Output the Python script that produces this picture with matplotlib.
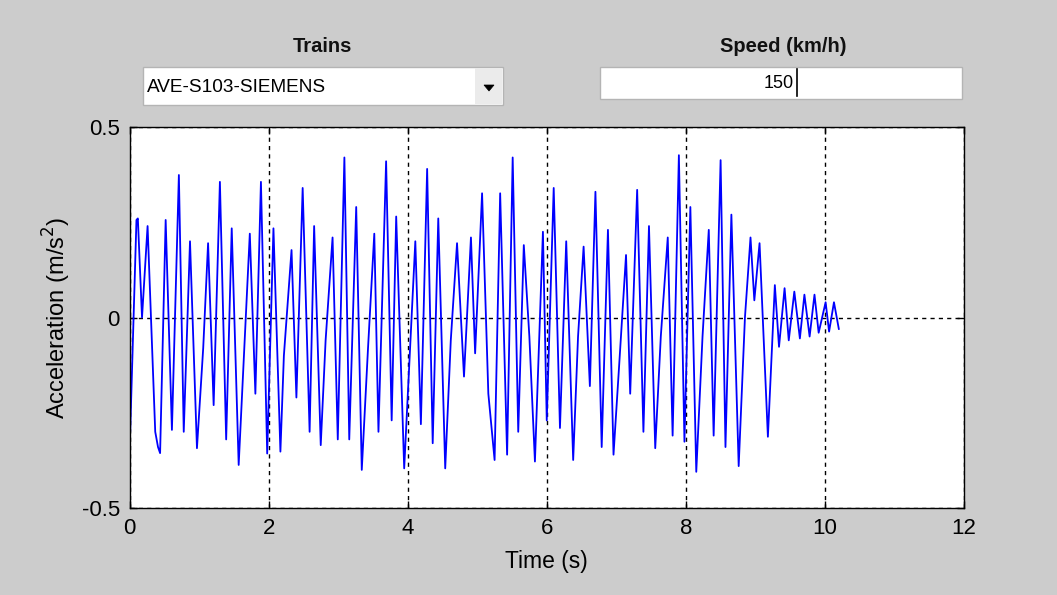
import numpy as np
import matplotlib
matplotlib.use("Agg")
import matplotlib.pyplot as plt
from matplotlib.patches import Rectangle, Polygon

plt.rcParams['font.family'] = ['Liberation Sans', 'DejaVu Sans']

# acceleration record (turning points + a few shoulders)
time_s = [0.00, 0.01, 0.10, 0.12, 0.18, 0.26, 0.37, 0.41, 0.44, 0.52,
          0.61, 0.71, 0.78, 0.87, 0.97, 1.06, 1.13, 1.21, 1.30, 1.39,
          1.47, 1.57, 1.73, 1.81, 1.89, 1.98, 2.07, 2.17, 2.22, 2.33,
          2.40, 2.49, 2.59, 2.655, 2.75, 2.82, 2.92, 2.995, 3.09, 3.16,
          3.26, 3.34, 3.43, 3.52, 3.58, 3.69, 3.77, 3.835, 3.95, 4.11,
          4.19, 4.28, 4.36, 4.44, 4.54, 4.62, 4.71, 4.81, 4.91, 4.97,
          5.07, 5.16, 5.25, 5.33, 5.43, 5.51, 5.59, 5.67, 5.75, 5.83,
          5.945, 6.00, 6.10, 6.19, 6.28, 6.38, 6.45, 6.53, 6.62, 6.70,
          6.79, 6.88, 6.96, 7.05, 7.14, 7.20, 7.30, 7.39, 7.47, 7.56,
          7.64, 7.74, 7.81, 7.90, 7.98, 8.065, 8.15, 8.24, 8.33, 8.40,
          8.50, 8.57, 8.655, 8.76, 8.85, 8.93, 8.985, 9.06, 9.18, 9.28,
          9.34, 9.42, 9.48, 9.56, 9.64, 9.705, 9.78, 9.85, 9.91, 10.01,
          10.06, 10.13, 10.20]
accel = [-0.20, -0.30, 0.256, 0.26, 0.00, 0.24, -0.30, -0.34, -0.356, 0.256,
         -0.295, 0.374, -0.30, 0.20, -0.343, -0.08, 0.195, -0.23, 0.356, -0.32,
         0.234, -0.387, 0.22, -0.20, 0.356, -0.357, 0.234, -0.352, -0.10, 0.177,
         -0.21, 0.34, -0.30, 0.24, -0.335, -0.06, 0.21, -0.32, 0.42, -0.32,
         0.29, -0.40, -0.08, 0.22, -0.30, 0.41, -0.27, 0.265, -0.396, 0.20,
         -0.28, 0.39, -0.33, 0.26, -0.396, -0.06, 0.195, -0.155, 0.21, -0.094,
         0.326, -0.20, -0.374, 0.326, -0.36, 0.42, -0.30, 0.19, -0.05, -0.378,
         0.225, -0.27, 0.34, -0.29, 0.20, -0.374, -0.05, 0.186, -0.18, 0.33,
         -0.34, 0.23, -0.36, -0.10, 0.164, -0.20, 0.335, -0.30, 0.24, -0.343,
         -0.05, 0.21, -0.31, 0.426, -0.326, 0.29, -0.405, -0.05, 0.23, -0.31,
         0.413, -0.34, 0.27, -0.39, 0.00, 0.21, 0.045, 0.195, -0.313, 0.085,
         -0.077, 0.077, -0.06, 0.068, -0.055, 0.06, -0.05, 0.06, -0.04, 0.04,
         -0.037, 0.04, -0.03]

x_ticks = [0, 2, 4, 6, 8, 10, 12]
y_ticks = [-0.5, 0, 0.5]
train_name = "AVE-S103-SIEMENS"
speed_text = "150"

W, H = 1057, 595
bg_col = '#CCCCCC'

fig = plt.figure(figsize=(W / 100, H / 100), dpi=100, facecolor=bg_col)

# gui layer in pixel coordinates
gui = fig.add_axes([0, 0, 1, 1], zorder=0)
gui.set_xlim(0, W)
gui.set_ylim(H, 0)
gui.axis('off')

gui.text(322, 46, "Trains", ha='center', va='center', fontsize=14.5, fontweight='bold', color='#111111')
gui.text(783, 46, "Speed (km/h)", ha='center', va='center', fontsize=14.5, fontweight='bold', color='#111111')

# popup menu
gui.add_patch(Rectangle((143, 67), 360, 38, facecolor='white', edgecolor='#B4B4B4', lw=1))
gui.add_patch(Rectangle((475, 68), 27, 36, facecolor='#EBEBEB', edgecolor='none'))
gui.add_patch(Polygon([[484, 85], [494, 85], [489, 91]], closed=True, facecolor='black', edgecolor='black', lw=0.5))
gui.text(147, 88, train_name, ha='left', va='center', fontsize=13.7, color='black')

# edit box
gui.add_patch(Rectangle((600, 67), 362, 32, facecolor='white', edgecolor='#B4B4B4', lw=1))
gui.text(779, 84, speed_text, ha='center', va='center', fontsize=13, color='black')
gui.plot([797, 797], [69, 96], color='black', lw=1.2)

# main axes
ax = fig.add_axes([129.5 / W, (H - 508) / H, 834.5 / W, 381 / H], zorder=2)
ax.set_facecolor('white')
ax.plot(time_s, accel, color='#0000FF', lw=1.3)

ax.set_xlim(0, 12)
ax.set_ylim(-0.5, 0.5)
ax.set_xticks(x_ticks)
ax.set_yticks(y_ticks)
ax.set_yticklabels(['-0.5', '0', '0.5'])
ax.set_axisbelow(True)
ax.grid(True, color='black', linestyle=(0, (3, 3)), linewidth=1)
ax.tick_params(direction='in', length=5, width=1, top=True, right=True,
               labelsize=16, colors='black')
ax.tick_params(axis='x', pad=7)
ax.tick_params(axis='y', pad=7)
for s in ax.spines.values():
    s.set_linewidth(1)
    s.set_color('black')

ax.set_xlabel("Time (s)", fontsize=16.5, labelpad=8)
ax.set_ylabel(r"Acceleration (m/s$^2$)", fontsize=17, labelpad=6)

fig.savefig("out.png", dpi=100, facecolor=bg_col)
